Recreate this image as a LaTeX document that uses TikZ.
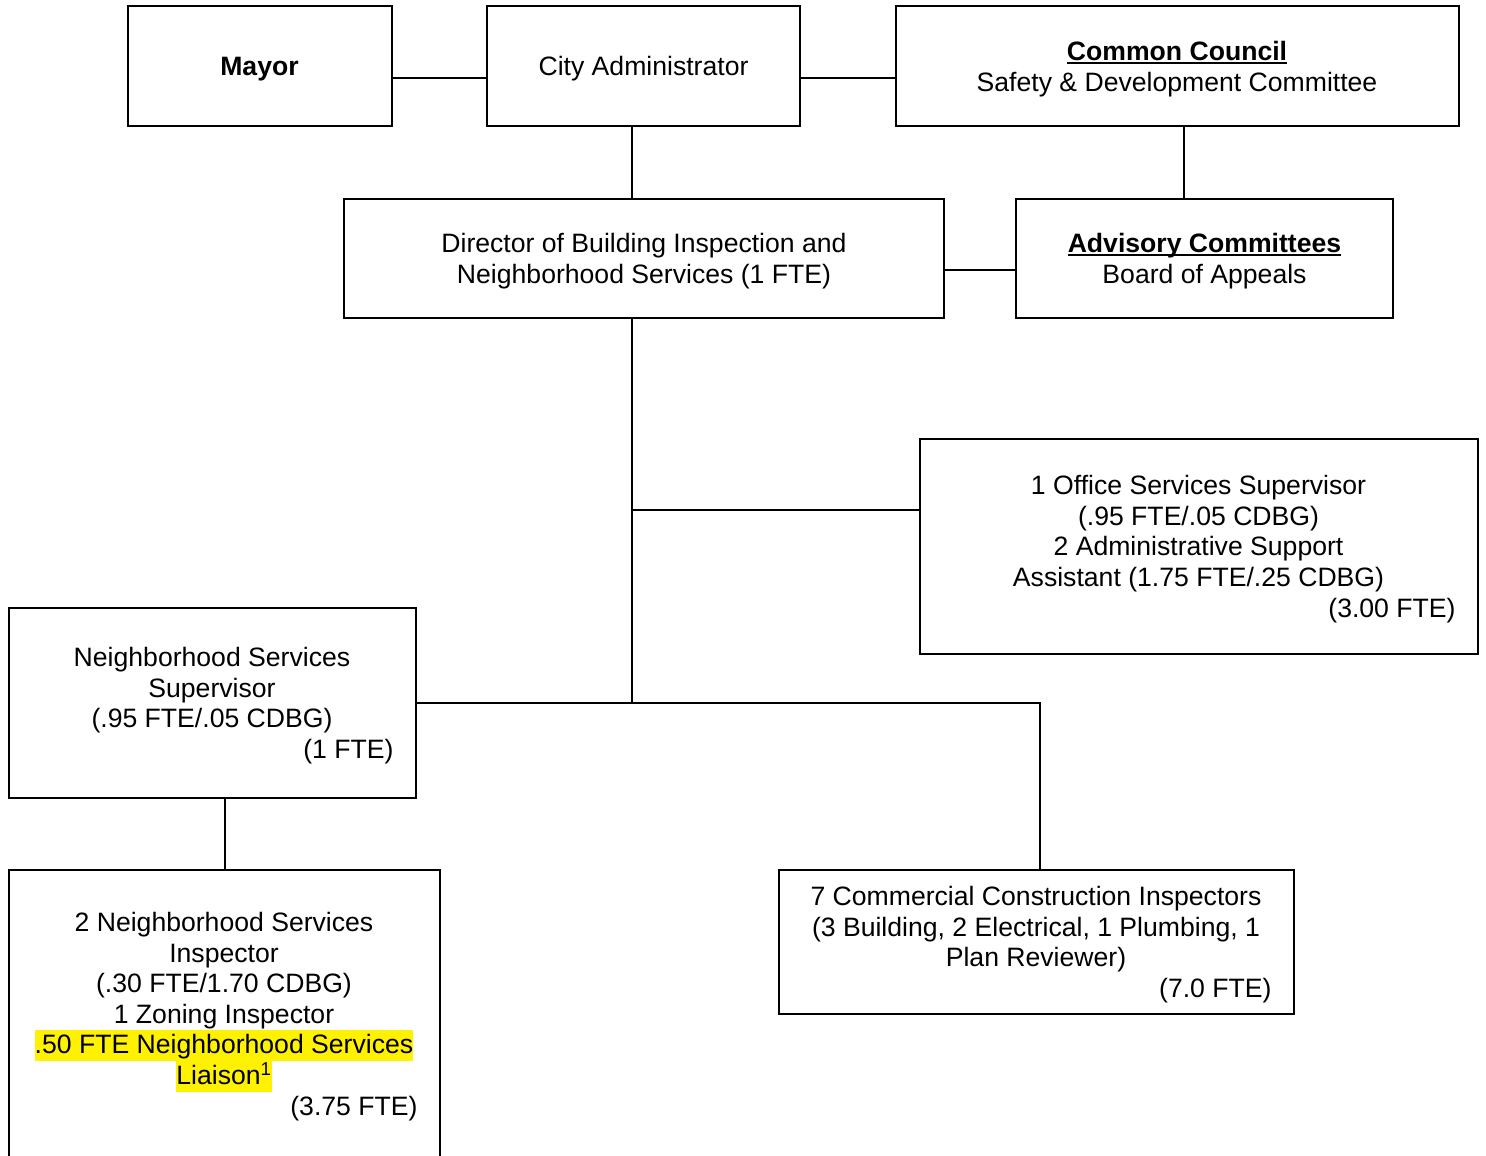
\documentclass[tikz,border=0pt]{standalone}
\usepackage{fontspec}
\setmainfont{Liberation Sans}
\usepackage{xcolor}
\usepackage{tikz}
\usetikzlibrary{positioning}

\newcommand{\hilite}[1]{{\setlength{\fboxsep}{0pt}\colorbox{yellow}{\rule[-7pt]{0pt}{30.6pt}#1}}}
\newcommand{\ulhead}[1]{\setbox0\hbox{\textbf{#1}}\rlap{\rule[-3.5pt]{\wd0}{2pt}}\box0}

\begin{document}
\begin{tikzpicture}[x=1pt,y=-1pt,
  box/.style={draw,line width=2pt,inner sep=0pt,align=flush center,
    font=\fontsize{26.6}{30.6}\selectfont,
    execute at end node={\endgraf\kern-6pt}},
  link/.style={line width=2pt}]
\useasboundingbox (0,0) rectangle (1486,1156);
\clip (0,0) rectangle (1486,1156);
%%top row
\node[box,minimum width=264,minimum height=119,text width=220] (mayor) at (259.5,66) {\textbf{Mayor}};
\node[box,minimum width=313,minimum height=119,text width=269] (cityadm) at (643.5,66) {City Administrator};
\node[box,minimum width=563,minimum height=119,text width=519] (council) at (1177,66)
  {\ulhead{Common Council}\\Safety \& Development Committee};
%%second row
\node[box,minimum width=600,minimum height=119,text width=556] (director) at (644,258)
  {Director of Building Inspection and\\Neighborhood Services (1 FTE)};
\node[box,minimum width=377,minimum height=119,text width=333] (advisory) at (1204.5,258)
  {\ulhead{Advisory Committees}\\Board of Appeals};
%%staff boxes
\node[box,minimum width=558,minimum height=215,text width=514] (office) at (1198.5,546)
  {1 Office Services Supervisor\\(.95 FTE/.05 CDBG)\\2 Administrative Support\\
   Assistant (1.75 FTE/.25 CDBG)\\\mbox{}\hfill(3.00 FTE)};
\node[box,minimum width=407,minimum height=190,text width=363] (nss) at (212,702.5)
  {Neighborhood Services\\Supervisor\\(.95 FTE/.05 CDBG)\\\mbox{}\hfill(1 FTE)};
\node[box,minimum width=431,minimum height=288,text width=387] (nsi) at (224,1013.5)
  {2 Neighborhood Services\\Inspector\\(.30 FTE/1.70 CDBG)\\1 Zoning Inspector\\
   \hilite{.50 FTE Neighborhood Services}\\\hilite{Liaison\textsuperscript{1}}\\
   \mbox{}\hfill(3.75 FTE)};
\node[box,minimum width=515,minimum height=144,text width=471] (commercial) at (1036,941.5)
  {7 Commercial Construction Inspectors\\(3 Building, 2 Electrical, 1 Plumbing, 1\\
   Plan Reviewer)\\\mbox{}\hfill(7.0 FTE)};
%%now the connectors
\draw[link] ([yshift=-12pt]mayor.east) -- ([yshift=-12pt]cityadm.west);
\draw[link] ([yshift=-12pt]cityadm.east) -- ([yshift=-12pt]council.west);
\draw[link] ([xshift=-11.5pt]cityadm.south) -- ([xshift=-11.5pt]cityadm.south |- director.north);
\draw[link] ([xshift=7pt]council.south) -- ([xshift=7pt]council.south |- advisory.north);
\draw[link] ([yshift=-12pt]director.east) -- ([yshift=-12pt]advisory.west);
\coordinate (trunk) at ([xshift=-12pt]director.south);
\coordinate (officein) at ([yshift=36pt]office.west);
\draw[link] (trunk) -- (trunk |- nss.east);
\draw[link] (officein) -- (trunk |- officein);
\draw[link] (nss.east) -| ([xshift=4pt]commercial.north);
\draw[link] ([xshift=13pt]nss.south) -- ([xshift=13pt]nss.south |- nsi.north);
\end{tikzpicture}
\end{document}
